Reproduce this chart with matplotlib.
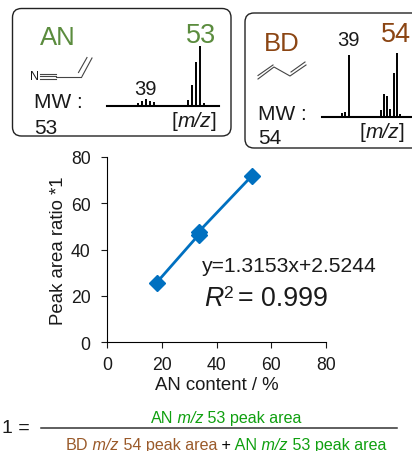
import matplotlib
matplotlib.use("Agg")
from matplotlib import pyplot as plt
from matplotlib.patches import FancyBboxPatch

plt.rcParams['font.family'] = ['Liberation Sans', 'DejaVu Sans']

# calibration
content = [18, 33.5, 33.5, 53]
ratio = [25.7, 46.5, 47.8, 72]
x_ticks = [0, 20, 40, 60, 80]
y_ticks = [0, 20, 40, 60, 80]

# spectra, relative intensity
an_mz = [37, 38, 39, 40, 41, 42, 50, 51, 52, 53, 54]
an_int = [5, 8.5, 11, 8, 6, 2, 10, 35, 74, 100, 4.5]
bd_mz = [37, 38, 39, 49, 50, 51, 52, 53, 54, 55]
bd_int = [6.5, 7, 97, 11, 35, 32, 12, 68, 100, 4.3]

W, H = 412, 452
GREEN = '#5B8C3E'
BROWN = '#8B4513'
FRAC_GREEN = '#10A010'
FRAC_BROWN = '#9A5A2A'
BLUE = '#0070C0'
TXT = '#1a1a1a'

fig = plt.figure(figsize=(W / 100, H / 100), dpi=100)

# overlay in pixel coordinates for boxes, text and structures
ov = fig.add_axes([0, 0, 1, 1])
ov.set_xlim(0, W)
ov.set_ylim(H, 0)
ov.axis('off')


def box(x0, y0, x1, y1):
    ov.add_patch(FancyBboxPatch((x0 + 9, y0 + 9), x1 - x0 - 18, y1 - y0 - 18,
                                boxstyle='round,pad=9,rounding_size=9',
                                fc='white', ec='#222222', lw=1.0, clip_on=False))


def px_axes(x0, x1, y_top, y_base):
    a = fig.add_axes([x0 / W, 1 - y_base / H, (x1 - x0) / W, (y_base - y_top) / H])
    a.patch.set_alpha(0)
    for s in ['top', 'left', 'right']:
        a.spines[s].set_visible(False)
    a.spines['bottom'].set_linewidth(1.5)
    a.set_xticks([])
    a.set_yticks([])
    return a


def pieces(x, y, parts, size=11):
    # parts = (text, colour, italic); placed one after another on a baseline
    rend = fig.canvas.get_renderer()
    for s, c, it in parts:
        t = ov.text(x, y, s, color=c, fontsize=size, ha='left', va='baseline',
                    style='italic' if it else 'normal')
        x += t.get_window_extent(rend).width
    return x


box(12.5, 9.5, 231, 137)
box(245, 14, 440, 149)

ov.text(58, 38, 'AN', color=GREEN, fontsize=18.5, ha='center', va='center')
ov.text(201, 36, '53', color=GREEN, fontsize=19.5, ha='center', va='center')
ov.text(145, 89.5, '39', color=TXT, fontsize=14.5, ha='center', va='center')
ov.text(34, 102, 'MW :', color=TXT, fontsize=15, ha='left', va='center')
ov.text(34, 128, '53', color=TXT, fontsize=15, ha='left', va='center')
pieces(172, 127, [('[', TXT, False), ('m/z', TXT, True), (']', TXT, False)], 15)

ov.text(282, 44, 'BD', color=BROWN, fontsize=18.5, ha='center', va='center')
ov.text(396, 35, '54', color=BROWN, fontsize=19.5, ha='center', va='center')
ov.text(348, 41, '39', color=TXT, fontsize=14.5, ha='center', va='center')
ov.text(258, 114, 'MW :', color=TXT, fontsize=15, ha='left', va='center')
ov.text(258, 139, '54', color=TXT, fontsize=15, ha='left', va='center')
pieces(360, 138, [('[', TXT, False), ('m/z', TXT, True), (']', TXT, False)], 15)

# acrylonitrile
ov.text(35, 77, 'N', color=TXT, fontsize=9, ha='center', va='center')
for dy in (-2.5, 0, 2.5):
    ov.plot([40, 56], [77 + dy, 77 + dy], color='#444444', lw=0.8)
ov.plot([56, 81], [77.5, 77.5], color='#444444', lw=0.8)
ov.plot([82, 92], [77.5, 59], color='#444444', lw=0.8)
ov.plot([78.5, 87], [73.5, 58.5], color='#444444', lw=0.8)

# butadiene
ov.plot([258, 274, 290, 306], [80, 68, 77, 66], color='#444444', lw=0.8)
ov.plot([258, 273], [76.5, 66], color='#444444', lw=0.8)
ov.plot([291, 305], [73, 63], color='#444444', lw=0.8)

ax1 = px_axes(107, 219, 47, 106.7)
ax1.vlines(an_mz, 0, an_int, color='black', lw=1.4)
ax1.set_xlim(29, 57.9)
ax1.set_ylim(0, 100)

ax2 = px_axes(321.7, 412, 54, 117.7)
ax2.vlines(bd_mz, 0, bd_int, color='black', lw=1.4)
ax2.set_xlim(30.6, 58.7)
ax2.set_ylim(0, 100)

# main plot
ax = fig.add_axes([107.3 / W, 1 - 343.3 / H, (326 - 107.3) / W, (343.3 - 158) / H])
ax.patch.set_alpha(0)
ax.plot(content, ratio, color=BLUE, lw=2, marker='D', ms=8.5, mec=BLUE, mfc=BLUE, clip_on=False)
ax.set_xlim(0, 80)
ax.set_ylim(0, 80)
ax.set_xticks(x_ticks)
ax.set_yticks(y_ticks)
ax.spines['top'].set_visible(False)
ax.spines['right'].set_visible(False)
ax.tick_params(labelsize=12.7, length=4, width=0.8, colors=TXT)
ax.tick_params(axis='x', pad=6)
ax.tick_params(axis='y', pad=8)
ax.set_xlabel('AN content / %', fontsize=13.4, color=TXT, labelpad=2)
ax.set_ylabel('Peak area ratio *1', fontsize=13.4, color=TXT, labelpad=3)

ov.text(202, 267, 'y=1.3153x+2.5244', color=TXT, fontsize=15.2, ha='left', va='center')
x_r = pieces(204, 306, [('R', TXT, True)], 19.3)
x_r = pieces(x_r, 298, [('2', TXT, False)], 12.5)
pieces(x_r + 5, 306, [('= 0.999', TXT, False)], 19.3)

# footnote fraction
ov.text(2, 429, '1 =', color=TXT, fontsize=14, ha='left', va='center')
ov.plot([41, 397], [428.5, 428.5], color='#333333', lw=1.1)

top = [('AN', FRAC_GREEN, False), (' m/z', FRAC_GREEN, True), (' 53 peak area', FRAC_GREEN, False)]
bot = [('BD', FRAC_BROWN, False), (' m/z', FRAC_BROWN, True), (' 54 peak area', FRAC_BROWN, False),
       (' +', 'black', False), (' AN', FRAC_GREEN, False), (' m/z', FRAC_GREEN, True),
       (' 53 peak area', FRAC_GREEN, False)]
pieces(150.5, 423, top, 11.6)
pieces(66, 450, bot, 11.6)

fig.savefig('out.png', dpi=100)
